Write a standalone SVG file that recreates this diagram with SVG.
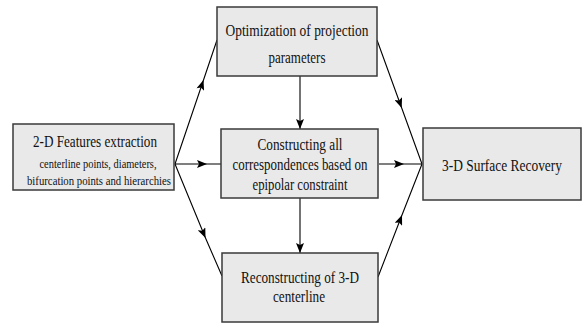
<svg xmlns="http://www.w3.org/2000/svg" width="584" height="324" viewBox="0 0 584 324">
<defs>
<style>
.box{fill:#e9e9e9;stroke:#3a3a3a;stroke-width:1.5}
.t{font-family:"Liberation Serif","Times New Roman",serif;fill:#111;text-anchor:middle}
.c{fill:none;stroke:#000;stroke-width:1.1}
</style>
<marker id="ah" viewBox="0 0 10 8" refX="10" refY="4" markerWidth="11" markerHeight="8" markerUnits="userSpaceOnUse" orient="auto">
<path d="M0,0 L10,4 L0,8 L2,4 z" fill="#000"/>
</marker>
</defs>
<rect width="584" height="324" fill="#fff"/>
<g id="connectors">
<path class="c" d="M175,164 L203.5,80 L217,40" marker-mid="url(#ah)"/>
<path class="c" d="M175,164 L207,164 L221,164" marker-mid="url(#ah)"/>
<path class="c" d="M175,164 L205.5,238 L222,276" marker-mid="url(#ah)"/>
<path class="c" d="M300,76 L300,129" marker-end="url(#ah)"/>
<path class="c" d="M300,198 L300,253" marker-end="url(#ah)"/>
<path class="c" d="M377,40 L401.7,108 L422,164" marker-mid="url(#ah)"/>
<path class="c" d="M379,164 L404,164 L422,164" marker-mid="url(#ah)"/>
<path class="c" d="M378,277 L402,215 L422,164" marker-mid="url(#ah)"/>
</g>
<g id="features">
<rect class="box" x="13" y="124" width="161" height="66"/>
<text class="t" x="95" y="147" font-size="16" textLength="124" lengthAdjust="spacingAndGlyphs">2-D Features extraction</text>
<text class="t" x="98" y="168" font-size="12.5" textLength="117" lengthAdjust="spacingAndGlyphs">centerline points, diameters,</text>
<text class="t" x="99" y="185" font-size="12.5" textLength="144" lengthAdjust="spacingAndGlyphs">bifurcation points  and hierarchies</text>
</g>
<g id="optimization">
<rect class="box" x="217" y="7" width="160" height="69"/>
<text class="t" x="297" y="36" font-size="17.5" textLength="143" lengthAdjust="spacingAndGlyphs">Optimization of projection</text>
<text class="t" x="297" y="63" font-size="17.5" textLength="57" lengthAdjust="spacingAndGlyphs">parameters</text>
</g>
<g id="correspondences">
<rect class="box" x="221" y="129" width="157" height="69"/>
<text class="t" x="300" y="150" font-size="17.5" textLength="85" lengthAdjust="spacingAndGlyphs">Constructing all</text>
<text class="t" x="300" y="170" font-size="17.5" textLength="135" lengthAdjust="spacingAndGlyphs">correspondences based on</text>
<text class="t" x="300" y="190" font-size="17.5" textLength="95" lengthAdjust="spacingAndGlyphs">epipolar constraint</text>
</g>
<g id="reconstructing">
<rect class="box" x="222" y="253" width="156" height="69"/>
<text class="t" x="300" y="283" font-size="17.5" textLength="118" lengthAdjust="spacingAndGlyphs">Reconstructing of 3-D</text>
<text class="t" x="299" y="302" font-size="17.5" textLength="52" lengthAdjust="spacingAndGlyphs">centerline</text>
</g>
<g id="surface">
<rect class="box" x="423" y="128" width="158" height="72"/>
<text class="t" x="502" y="171" font-size="16" textLength="120" lengthAdjust="spacingAndGlyphs">3-D Surface Recovery</text>
</g>
</svg>
